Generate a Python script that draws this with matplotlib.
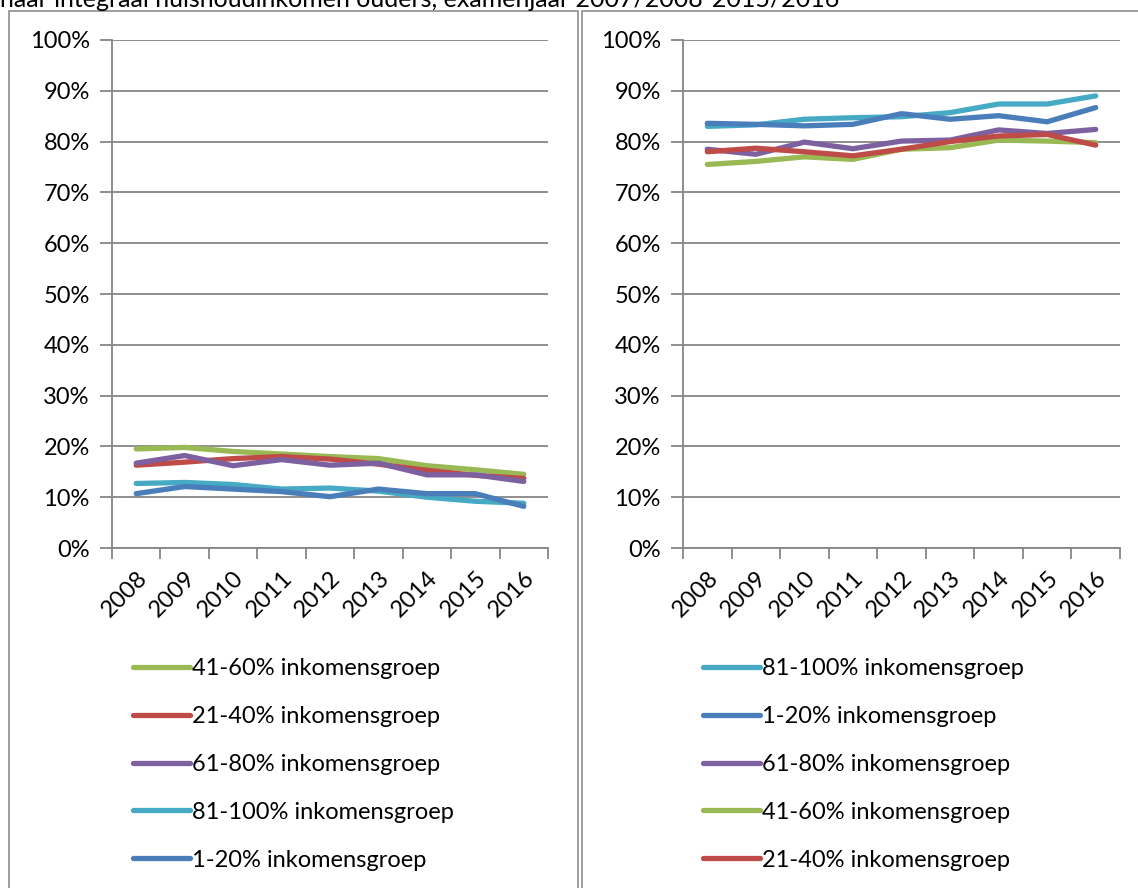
import matplotlib
matplotlib.use("Agg")
import matplotlib.pyplot as plt
from matplotlib.patches import Rectangle
from matplotlib.ticker import FuncFormatter, MultipleLocator
import numpy as np

plt.rcParams['font.family'] = ['Lato', 'DejaVu Sans']

years = ['2008', '2009', '2010', '2011', '2012', '2013', '2014', '2015', '2016']

# Left panel (values in %)
left_labels = ['41-60% inkomensgroep', '21-40% inkomensgroep', '61-80% inkomensgroep',
               '81-100% inkomensgroep', '1-20% inkomensgroep']
left_g41_60 = [19.5, 19.8, 19.0, 18.5, 18.0, 17.6, 16.2, 15.4, 14.5]
left_g21_40 = [16.3, 16.9, 17.6, 18.0, 17.5, 16.5, 15.3, 14.3, 13.7]
left_g61_80 = [16.7, 18.2, 16.2, 17.4, 16.3, 16.7, 14.4, 14.4, 13.1]
left_g81_100 = [12.7, 12.9, 12.5, 11.6, 11.8, 11.2, 10.0, 9.2, 8.8]
left_g1_20 = [10.7, 12.1, 11.6, 11.1, 10.1, 11.6, 10.7, 10.7, 8.2]

# Right panel (values in %)
right_labels = ['81-100% inkomensgroep', '1-20% inkomensgroep', '61-80% inkomensgroep',
                '41-60% inkomensgroep', '21-40% inkomensgroep']
right_g81_100 = [83.0, 83.3, 84.4, 84.7, 84.9, 85.7, 87.4, 87.4, 89.0]
right_g1_20 = [83.6, 83.4, 83.1, 83.4, 85.5, 84.4, 85.1, 83.9, 86.7]
right_g61_80 = [78.5, 77.5, 79.9, 78.6, 80.1, 80.3, 82.3, 81.6, 82.4]
right_g41_60 = [75.5, 76.1, 77.0, 76.5, 78.5, 78.8, 80.3, 80.1, 79.8]
right_g21_40 = [78.0, 78.7, 78.0, 77.2, 78.5, 80.0, 81.1, 81.4, 79.3]

colors = {
    '41-60% inkomensgroep': '#98B954',
    '21-40% inkomensgroep': '#BE4B48',
    '61-80% inkomensgroep': '#7D60A0',
    '81-100% inkomensgroep': '#46AAC5',
    '1-20% inkomensgroep': '#4A7EBB',
}

FS = 17
LW = 3.8
W, H = 1138, 888
fig = plt.figure(figsize=(W / 100, H / 100), dpi=100)

# Title (clipped at top, as in the source)
fig.text(0.0, 1.0 - 7 / H, 'naar integraal huishoudinkomen ouders, examenjaar 2007/2008-2015/2016',
         fontsize=18, ha='left', va='baseline', color='#000000')

# Frames
frame_col = '#8C8C8C'
fig.patches.append(Rectangle((9 / W, -0.05), (578 - 9) / W, 1.05 - 11 / H,
                             transform=fig.transFigure, fill=False, edgecolor=frame_col,
                             linewidth=1.2, zorder=0))
fig.patches.append(Rectangle((582 / W, -0.05), 0.6, 1.05 - 11 / H,
                             transform=fig.transFigure, fill=False, edgecolor=frame_col,
                             linewidth=1.2, zorder=0))


def make_panel(ax, labels, series, legend_x):
    x = np.arange(len(years))
    for lab, vals in zip(labels, series):
        ax.plot(x, vals, color=colors[lab], linewidth=LW, solid_capstyle='round',
                solid_joinstyle='round', label=lab, zorder=3)
    ax.set_xlim(-0.5, len(years) - 0.5)
    ax.set_ylim(0, 100)
    ax.yaxis.set_major_locator(MultipleLocator(10))
    ax.yaxis.set_major_formatter(FuncFormatter(lambda v, p: f'{int(round(v))}%'))
    ax.grid(axis='y', color='#868686', linewidth=1.3, zorder=1)
    ax.set_axisbelow(True)
    for s in ['top', 'right']:
        ax.spines[s].set_visible(False)
    for s in ['left', 'bottom']:
        ax.spines[s].set_color('#868686')
        ax.spines[s].set_linewidth(1.3)
    # category ticks at boundaries
    ax.set_xticks(np.arange(-0.5, len(years), 1.0))
    ax.set_xticklabels([])
    ax.set_xticks(x, minor=True)
    ax.set_xticklabels(years, minor=True, rotation=45, ha='right', rotation_mode='anchor',
                       fontsize=FS)
    ax.tick_params(axis='x', which='major', length=8, width=1.3, color='#868686', direction='out')
    ax.tick_params(axis='x', which='minor', length=0, pad=14)
    ax.tick_params(axis='y', length=9, width=1.3, color='#868686', direction='out',
                   labelsize=FS, pad=7)
    handles, labs = ax.get_legend_handles_labels()
    leg = fig.legend(handles, labs, loc='upper left',
                     bbox_to_anchor=(legend_x / W, 1 - 658 / H),
                     bbox_transform=fig.transFigure, frameon=False, fontsize=FS,
                     handlelength=2.4, handletextpad=0.12, labelspacing=1.14,
                     borderaxespad=0, borderpad=0)
    for ln in leg.get_lines():
        ln.set_linewidth(LW)


axL = fig.add_axes([112 / W, 1 - 548 / H, 436 / W, 508 / H])
make_panel(axL, left_labels, [left_g41_60, left_g21_40, left_g61_80, left_g81_100, left_g1_20], 133)

axR = fig.add_axes([683 / W, 1 - 548 / H, 437 / W, 508 / H])
make_panel(axR, right_labels, [right_g81_100, right_g1_20, right_g61_80, right_g41_60, right_g21_40], 703)

fig.savefig('out.png', dpi=100)
